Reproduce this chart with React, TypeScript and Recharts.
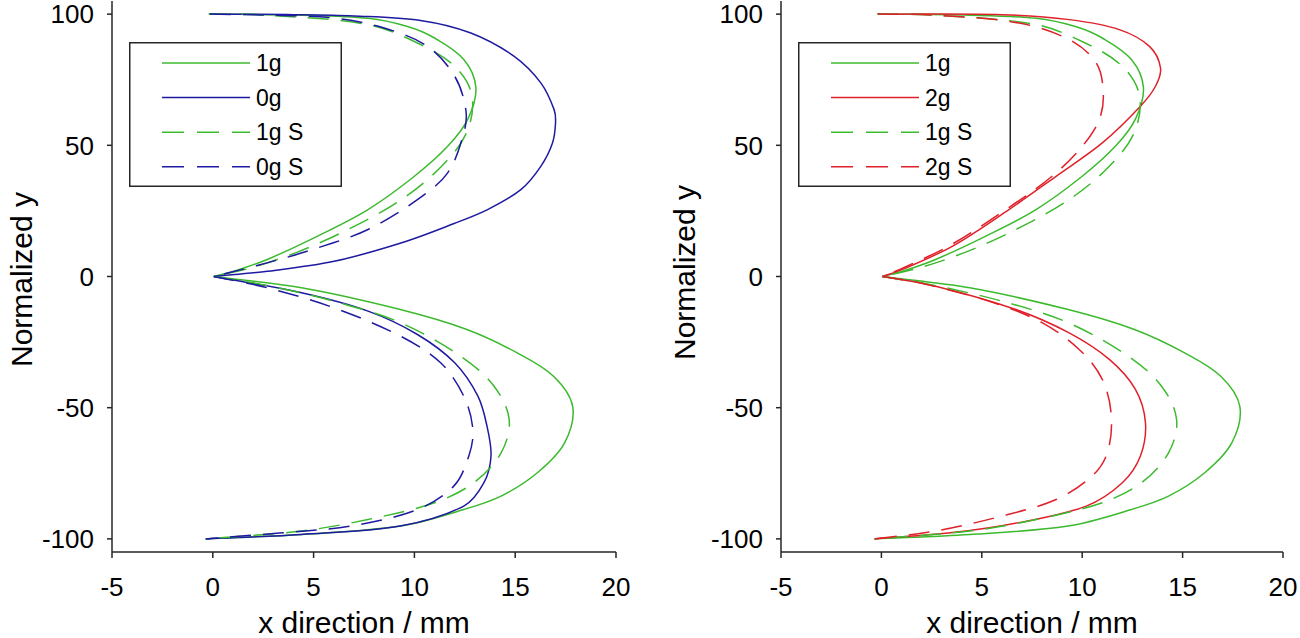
import { LineChart, Line, XAxis, YAxis, Legend, Label } from 'recharts';

type Pt = { x: number; y: number };

const xTicks = [-5, 0, 5, 10, 15, 20];
const yTicks = [-100, -50, 0, 50, 100];

// each curve is split in two lobes so the cusp at (0, 0) stays sharp
const g1Upper: Pt[] = [
  { x: -0.2, y: 100 }, { x: 4.4, y: 99.6 }, { x: 7.7, y: 98.4 }, { x: 9.7, y: 95.2 },
  { x: 11.0, y: 90.9 }, { x: 12.45, y: 82.7 }, { x: 13.05, y: 72 }, { x: 12.65, y: 60 },
  { x: 11.65, y: 49.6 }, { x: 10.0, y: 38.2 }, { x: 7.7, y: 25.5 }, { x: 5.2, y: 15.4 },
  { x: 2.7, y: 6.5 }, { x: 1.05, y: 2.0 }, { x: 0.05, y: 0 },
];
const g1Lower: Pt[] = [
  { x: 0.05, y: 0 }, { x: 4.4, y: -4.3 }, { x: 9.3, y: -12.6 }, { x: 12.6, y: -20.2 },
  { x: 15.1, y: -29.1 }, { x: 16.9, y: -38 }, { x: 17.85, y: -49.5 }, { x: 17.45, y: -63.4 },
  { x: 16.1, y: -74.8 }, { x: 14.3, y: -83.7 }, { x: 12.45, y: -88.8 }, { x: 9.3, y: -95.1 },
  { x: 4.4, y: -98.3 }, { x: -0.35, y: -100 },
];

const g0Upper: Pt[] = [
  { x: -0.15, y: 100 }, { x: 4.0, y: 99.8 }, { x: 7.0, y: 99.3 }, { x: 10.3, y: 97.6 },
  { x: 12.8, y: 92.8 }, { x: 14.95, y: 83.9 }, { x: 16.27, y: 73.8 }, { x: 16.93, y: 63.6 },
  { x: 17.0, y: 58.5 }, { x: 16.85, y: 50.9 }, { x: 16.27, y: 42.0 }, { x: 15.28, y: 33.1 },
  { x: 13.63, y: 25.5 }, { x: 11.97, y: 20.2 }, { x: 9.33, y: 12.75 }, { x: 6.02, y: 5.8 },
  { x: 2.71, y: 2.0 }, { x: 0.05, y: 0 },
];
const g0Lower: Pt[] = [
  { x: 0.05, y: 0 }, { x: 4.4, y: -6.2 }, { x: 7.7, y: -13.2 }, { x: 10.15, y: -22.1 },
  { x: 12.0, y: -32.9 }, { x: 13.15, y: -45.6 }, { x: 13.6, y: -57 }, { x: 13.8, y: -68.4 },
  { x: 13.45, y: -78.6 }, { x: 12.45, y: -87.5 }, { x: 9.3, y: -95.1 }, { x: 4.4, y: -98.3 },
  { x: -0.35, y: -100 },
];

const g1sUpper: Pt[] = [
  { x: -0.2, y: 100 }, { x: 2.7, y: 99.6 }, { x: 7.7, y: 96.0 }, { x: 10.15, y: 89.0 },
  { x: 12.0, y: 80.1 }, { x: 12.85, y: 69 }, { x: 12.6, y: 55 }, { x: 11.35, y: 42 },
  { x: 9.35, y: 29.3 }, { x: 6.7, y: 17.9 }, { x: 4.2, y: 9.3 }, { x: 1.9, y: 3.3 },
  { x: 0.05, y: 0 },
];
const g1sLower: Pt[] = [
  { x: 0.05, y: 0 }, { x: 2.4, y: -3.0 }, { x: 6.0, y: -9.4 }, { x: 9.3, y: -17.6 },
  { x: 12.3, y: -30.4 }, { x: 13.95, y: -41.8 }, { x: 14.7, y: -54.5 }, { x: 14.3, y: -67.2 },
  { x: 12.95, y: -78.6 }, { x: 11.0, y: -86.2 }, { x: 7.7, y: -92.6 }, { x: 4.4, y: -97.0 },
  { x: -0.35, y: -100 },
];

const g0sUpper: Pt[] = [
  { x: -0.15, y: 100 }, { x: 3.0, y: 99.6 }, { x: 6.0, y: 98.5 }, { x: 8.5, y: 94.7 },
  { x: 10.65, y: 87.7 }, { x: 12.0, y: 76.3 }, { x: 12.55, y: 63.6 }, { x: 12.45, y: 54.7 },
  { x: 11.65, y: 39.5 }, { x: 10.15, y: 29.3 }, { x: 7.7, y: 17.9 }, { x: 5.2, y: 10.9 },
  { x: 2.7, y: 5.2 }, { x: 0.05, y: 0 },
];
const g0sLower: Pt[] = [
  { x: 0.05, y: 0 }, { x: 2.7, y: -4.3 }, { x: 6.0, y: -11.9 }, { x: 9.3, y: -22.7 },
  { x: 11.3, y: -32.9 }, { x: 12.45, y: -45.6 }, { x: 12.9, y: -58.3 }, { x: 12.7, y: -68.4 },
  { x: 11.95, y: -79.9 }, { x: 10.15, y: -88.8 }, { x: 6.85, y: -95.1 }, { x: 3.55, y: -97.6 },
  { x: -0.35, y: -100 },
];

const g2Upper: Pt[] = [
  { x: -0.18, y: 100 }, { x: 6.0, y: 99.8 }, { x: 9.35, y: 97.9 }, { x: 11.85, y: 94.1 },
  { x: 13.35, y: 87.7 }, { x: 13.9, y: 79.5 }, { x: 13.65, y: 72.5 }, { x: 12.9, y: 64.9 },
  { x: 11.0, y: 50.9 }, { x: 8.7, y: 38.2 }, { x: 6.35, y: 25.5 }, { x: 3.55, y: 11.6 },
  { x: 1.05, y: 2.7 }, { x: 0.05, y: 0 },
];
const g2Lower: Pt[] = [
  { x: 0.05, y: 0 }, { x: 2.7, y: -3.7 }, { x: 6.7, y: -12.6 }, { x: 9.35, y: -21.5 },
  { x: 11.35, y: -31.6 }, { x: 12.65, y: -43.0 }, { x: 13.15, y: -55.7 }, { x: 12.9, y: -68.4 },
  { x: 12.0, y: -78.6 }, { x: 10.2, y: -87.5 }, { x: 6.85, y: -93.8 }, { x: 3.55, y: -97.6 },
  { x: -0.35, y: -100 },
];

const g2sUpper: Pt[] = [
  { x: -0.18, y: 100 }, { x: 2.7, y: 99.6 }, { x: 6.85, y: 96.6 }, { x: 9.35, y: 90.3 },
  { x: 10.7, y: 81.4 }, { x: 11.05, y: 70.0 }, { x: 10.85, y: 59.8 }, { x: 10.0, y: 49.6 },
  { x: 8.55, y: 38.5 }, { x: 6.25, y: 25.8 }, { x: 3.45, y: 12.0 }, { x: 1.0, y: 3.0 },
  { x: 0.05, y: 0 },
];
const g2sLower: Pt[] = [
  { x: 0.05, y: 0 }, { x: 1.9, y: -2.4 }, { x: 5.6, y: -10.0 }, { x: 8.0, y: -17.6 },
  { x: 9.85, y: -27.8 }, { x: 11.0, y: -39.2 }, { x: 11.45, y: -53.2 }, { x: 11.25, y: -67.2 },
  { x: 10.5, y: -76.0 }, { x: 8.7, y: -85.0 }, { x: 6.0, y: -91.3 }, { x: 2.7, y: -97.0 },
  { x: -0.35, y: -100 },
];

const GREEN = '#3cba2e';
const BLUE = '#1f1aa0';
const RED = '#e0202a';
const AXIS = '#262626';

// smooth curve through the points; tangents scaled by chord length so
// unevenly spaced points don't make the line wobble
function smoothCurve(context: any) {
  let pts: [number, number][] = [];
  return {
    areaStart() {},
    areaEnd() {},
    lineStart() { pts = []; },
    point(x: number, y: number) { pts.push([+x, +y]); },
    lineEnd() {
      const n = pts.length;
      if (!n) return;
      context.moveTo(pts[0][0], pts[0][1]);
      const dir = (a: [number, number], b: [number, number]) => {
        const dx = b[0] - a[0];
        const dy = b[1] - a[1];
        const l = Math.hypot(dx, dy) || 1;
        return [dx / l, dy / l];
      };
      for (let i = 0; i < n - 1; i++) {
        const p0 = pts[Math.max(i - 1, 0)];
        const p1 = pts[i];
        const p2 = pts[i + 1];
        const p3 = pts[Math.min(i + 2, n - 1)];
        const seg = Math.hypot(p2[0] - p1[0], p2[1] - p1[1]) / 3;
        const t1 = dir(p0, p2);
        const t2 = dir(p1, p3);
        context.bezierCurveTo(
          p1[0] + t1[0] * seg, p1[1] + t1[1] * seg,
          p2[0] - t2[0] * seg, p2[1] - t2[1] * seg,
          p2[0], p2[1],
        );
      }
    },
  };
}

type Series = { name: string; color: string; dashed: boolean; upper: Pt[]; lower: Pt[] };

const leftSeries: Series[] = [
  { name: '1g', color: GREEN, dashed: false, upper: g1Upper, lower: g1Lower },
  { name: '0g', color: BLUE, dashed: false, upper: g0Upper, lower: g0Lower },
  { name: '1g S', color: GREEN, dashed: true, upper: g1sUpper, lower: g1sLower },
  { name: '0g S', color: BLUE, dashed: true, upper: g0sUpper, lower: g0sLower },
];

const rightSeries: Series[] = [
  { name: '1g', color: GREEN, dashed: false, upper: g1Upper, lower: g1Lower },
  { name: '2g', color: RED, dashed: false, upper: g2Upper, lower: g2Lower },
  { name: '1g S', color: GREEN, dashed: true, upper: g1sUpper, lower: g1sLower },
  { name: '2g S', color: RED, dashed: true, upper: g2sUpper, lower: g2sLower },
];

const XTitle = (props: any) => {
  const vb = props.viewBox ?? { x: 112, y: 552, width: 504, height: 86 };
  return (
    <text x={vb.x + vb.width / 2} y={vb.y + 81} textAnchor="middle" fontSize={30} fill="#000">
      x direction / mm
    </text>
  );
};

const makeYTitle = (gap: number, shift: number) => (props: any) => {
  const vb = props.viewBox ?? { x: 0, y: 1, width: 112, height: 551 };
  const x = vb.x + vb.width - gap;
  const y = vb.y + vb.height / 2 + shift;
  return (
    <text x={x} y={y} transform={`rotate(-90 ${x} ${y})`} textAnchor="middle" fontSize={30} fill="#000">
      Normalized y
    </text>
  );
};

function LegendBox({ series }: { series: Series[] }) {
  return (
    <svg width={213} height={145} style={{ display: 'block' }}>
      <rect x={0.75} y={0.75} width={211.5} height={143.5} fill="#fff" stroke={AXIS} strokeWidth={1.5} />
      {series.map((s, i) => {
        const cy = 21 + i * 34.6;
        return (
          <g key={s.name}>
            <line
              x1={33} x2={121} y1={cy} y2={cy}
              stroke={s.color} strokeWidth={1.5}
              strokeDasharray={s.dashed ? '22 13' : undefined}
            />
            <text x={127} y={cy} dy="0.36em" fontSize={23} fill="#000">{s.name}</text>
          </g>
        );
      })}
    </svg>
  );
}

interface PanelProps {
  series: Series[];
  width: number;
  left: number;
  right: number;
  titleGap: number;
  titleShift: number;
}

function Panel({ series, width, left, right, titleGap, titleShift }: PanelProps) {
  return (
    <LineChart width={width} height={638} margin={{ top: 1, right, bottom: 0, left: 0 }}>
      <XAxis
        type="number"
        dataKey="x"
        domain={[-5, 20]}
        ticks={xTicks}
        interval={0}
        allowDataOverflow
        height={86}
        tickSize={6}
        tickMargin={20}
        axisLine={{ stroke: AXIS, strokeWidth: 1.5 }}
        tickLine={{ stroke: AXIS, strokeWidth: 1.5 }}
        tick={{ fill: '#000', fontSize: 26 }}
        label={<Label content={XTitle} />}
      />
      <YAxis
        type="number"
        dataKey="y"
        domain={[-105, 105]}
        ticks={yTicks}
        interval={0}
        allowDataOverflow
        width={left}
        tickSize={5}
        tickMargin={13}
        axisLine={{ stroke: AXIS, strokeWidth: 1.5 }}
        tickLine={{ stroke: AXIS, strokeWidth: 1.5 }}
        tick={{ fill: '#000', fontSize: 26 }}
        label={<Label content={makeYTitle(titleGap, titleShift)} />}
      />
      <Legend
        layout="vertical"
        align="center"
        verticalAlign="middle"
        wrapperStyle={{ left: left + 17, top: 42, width: 213, height: 145 }}
        content={() => <LegendBox series={series} />}
      />
      {series.flatMap((s) =>
        [s.upper, s.lower].map((d, i) => (
          <Line
            key={`${s.name}-${i}`}
            data={d}
            dataKey="y"
            name={s.name}
            type={smoothCurve as any}
            stroke={s.color}
            strokeWidth={1.5}
            strokeDasharray={s.dashed ? '21 12' : undefined}
            dot={false}
            activeDot={false}
            legendType={i === 0 ? 'line' : 'none'}
            isAnimationActive={false}
          />
        ))
      )}
    </LineChart>
  );
}

export default function App() {
  return (
    <div
      style={{
        position: 'absolute', left: 0, top: 0, width: 1300, height: 638,
        background: '#fff', fontFamily: '"Liberation Sans", Arial, sans-serif', overflow: 'hidden',
      }}
    >
      <div style={{ position: 'absolute', left: 0, top: 0 }}>
        <Panel series={leftSeries} width={640} left={112} right={24} titleGap={80} titleShift={3} />
      </div>
      <div style={{ position: 'absolute', left: 640, top: 0 }}>
        <Panel series={rightSeries} width={660} left={141} right={17} titleGap={86} titleShift={-4} />
      </div>
    </div>
  );
}
